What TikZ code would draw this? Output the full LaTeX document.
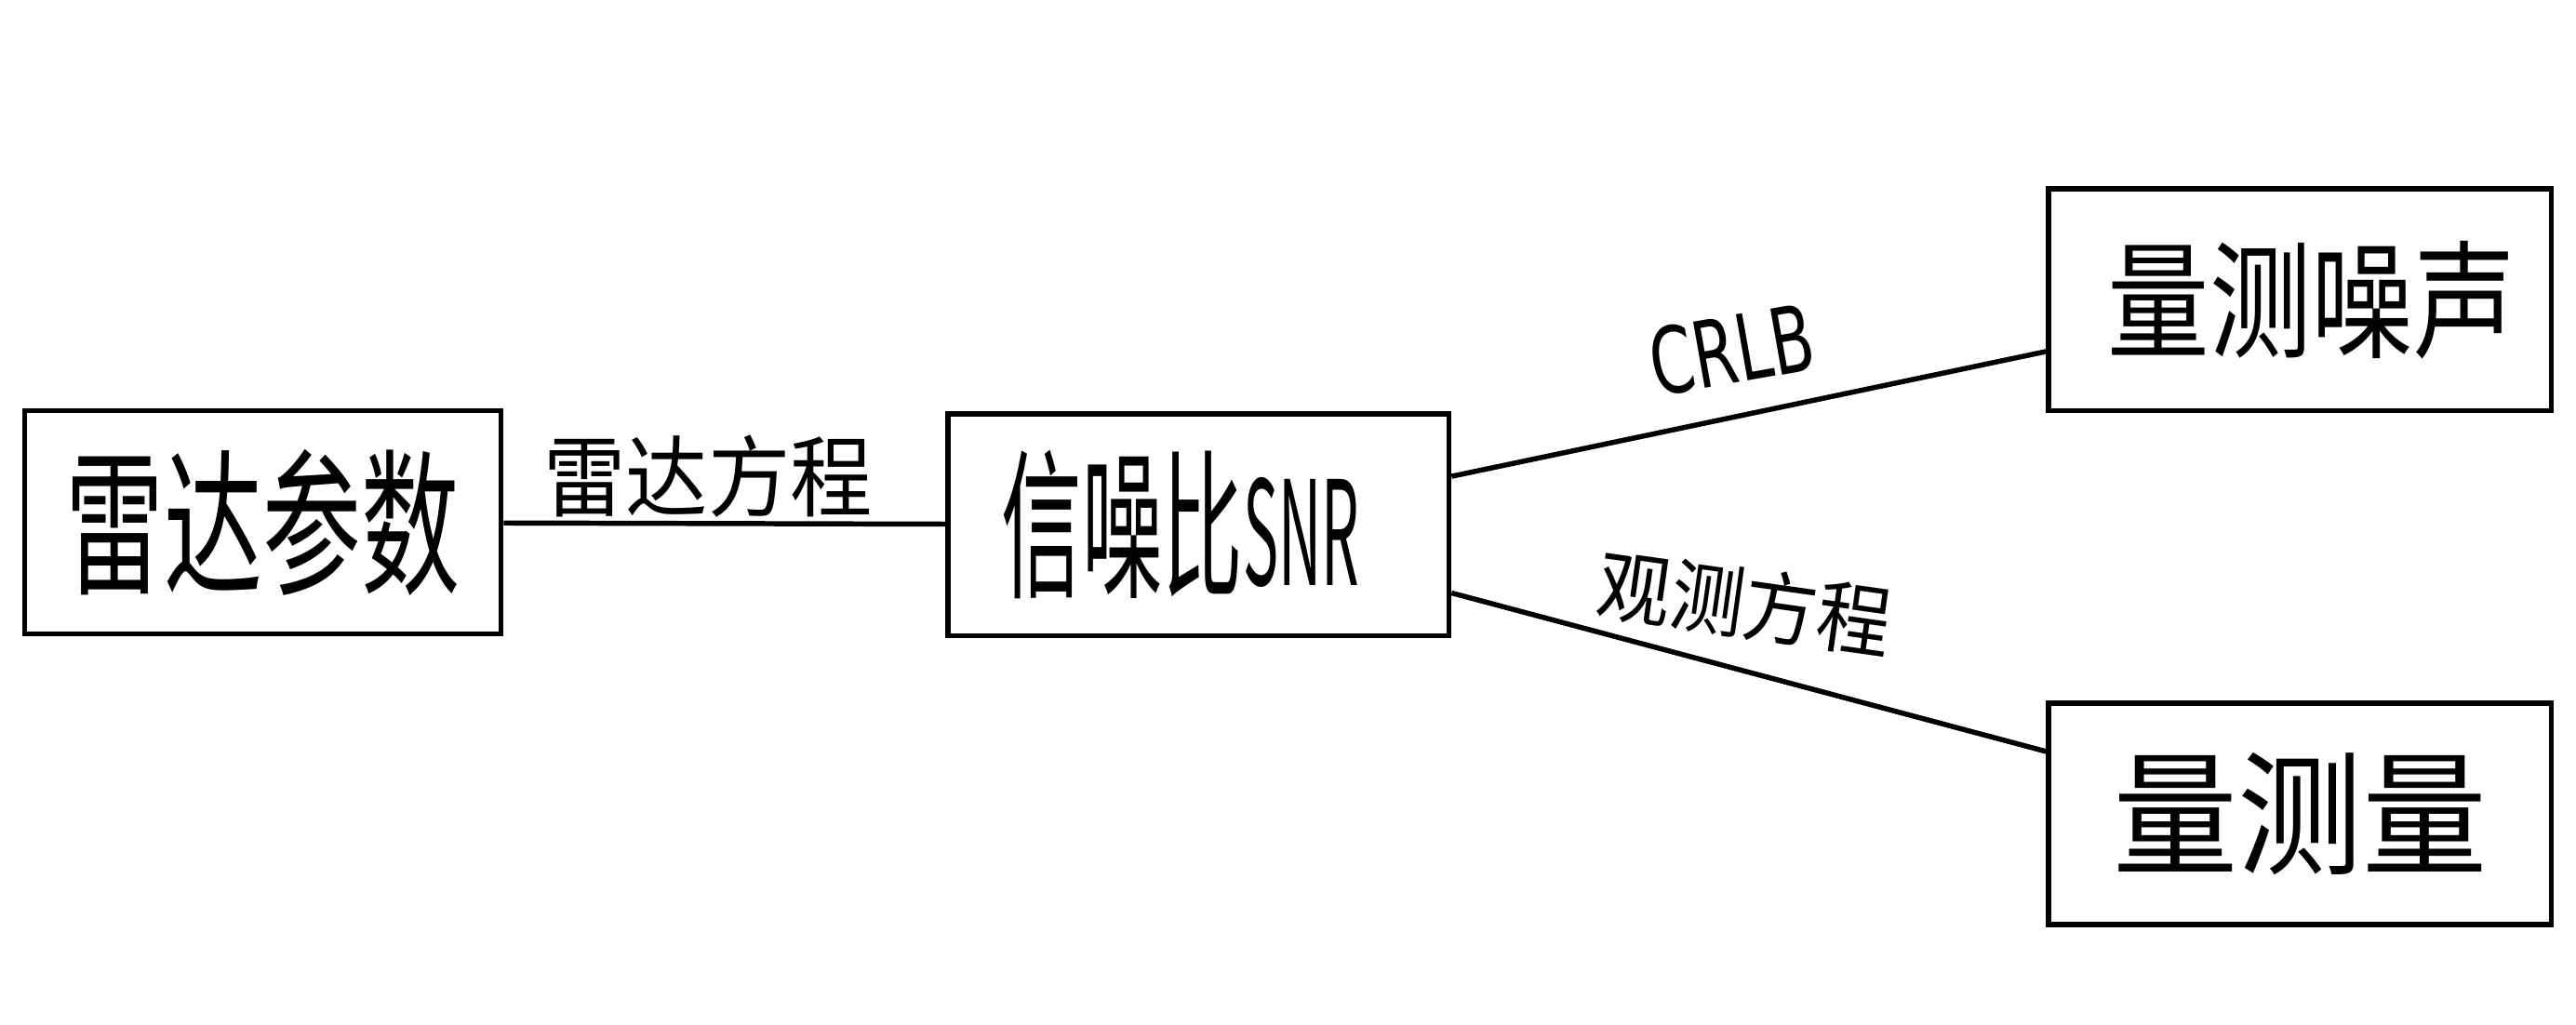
\documentclass[tikz,border=0pt]{standalone}
\usepackage{fontspec}
\usepackage{graphicx}
\newfontfamily\cjk{Noto Sans CJK SC}
\newfontfamily\latf{DejaVu Sans}
\begin{document}
\begin{tikzpicture}[x=0.5pt,y=-0.5pt,
  box/.style={draw,line width=1.55pt,inner sep=0pt,minimum width=152pt,minimum height=67.5pt},
  conn/.style={line width=1.55pt},
  lbl/.style={inner sep=0pt}]
\useasboundingbox (0,0) rectangle (1568,624);
\node[box,minimum width=145pt,minimum height=68pt] (A) at (160,318)
  {\fontsize{30pt}{30pt}\cjk\scalebox{1}[1.6]{雷达参数}};
\node[box,minimum width=152.5pt] (B) at (729.5,319.5)
  {\fontsize{24.5pt}{24.5pt}\cjk\scalebox{1}[2]{信噪比}\scalebox{0.74}[1.8]{SNR}\hspace*{11pt}};
\node[box,minimum width=153pt] (C) at (1400,182.5)
  {\fontsize{31pt}{31pt}\cjk\hspace*{7pt}\raisebox{2pt}{\scalebox{1}[1.25]{量测噪声}}};
\node[box,minimum width=153pt] (D) at (1400,495.5)
  {\fontsize{38pt}{38pt}\cjk\raisebox{-3pt}{\scalebox{1}[1.08]{量测量}}};
\draw[conn] (A) -- (B);
\draw[conn] ([yshift=14.75pt]B.east) -- ([yshift=-15.75pt]C.west);
\draw[conn] ([yshift=-20.75pt]B.east) -- ([yshift=19pt]D.west);
\node[lbl] (l1) at (431,290) {\fontsize{25pt}{25pt}\cjk\scalebox{1}[1.08]{雷达方程}};
\node[lbl,rotate=10] (l2) at (1054,213) {\fontsize{28pt}{28pt}\latf\scalebox{0.68}[1]{CRLB}};
\node[lbl,rotate=-8] (l3) at (1062,367) {\fontsize{22.5pt}{22.5pt}\cjk\scalebox{1}[1.07]{观测方程}};
\end{tikzpicture}
\end{document}
